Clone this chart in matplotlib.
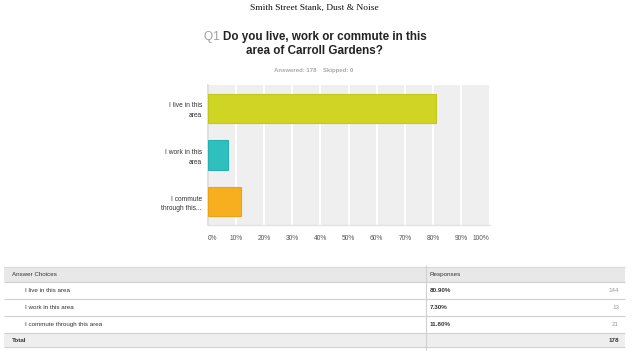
import matplotlib
matplotlib.use("Agg")
import matplotlib.pyplot as plt
from matplotlib.patches import Rectangle

# ---- data ----
suptitle = "Smith Street Stank, Dust & Noise"
question_no = "Q1"
question_lines = ["Do you live, work or commute in this", "area of Carroll Gardens?"]
answered = 178
skipped = 0
categories = ["I live in this\narea", "I work in this\narea", "I commute\nthrough this..."]
full_choices = ["I live in this area", "I work in this area", "I commute through this area"]
percents = [80.90, 7.30, 11.80]
counts = [144, 13, 21]
bar_colors = ["#D0D523", "#2FBFBF", "#F7AE1F"]
edge_colors = ["#C2C71C", "#27B0B0", "#EDA215"]
xticks = [0, 10, 20, 30, 40, 50, 60, 70, 80, 90, 100]

plt.rcParams['font.family'] = ['Liberation Sans', 'DejaVu Sans']

W, H = 640, 358
fig = plt.figure(figsize=(W / 100, H / 100), dpi=100)
fig.patch.set_facecolor("white")

# ---- bar chart ----
L, R, T, B = 207.5, 489.5, 85, 225
ax = fig.add_axes([L / W, 1 - B / H, (R - L) / W, (B - T) / H])
ax.set_facecolor("#EFEFEF")
ypos = list(range(len(categories)))
ax.barh(ypos, percents, height=0.63, color=bar_colors, edgecolor=edge_colors,
        linewidth=0.8, zorder=3)
ax.set_xlim(0, 100)
ax.set_ylim(len(categories) - 0.5, -0.5)
ax.set_xticks(xticks)
ax.set_xticklabels([f"{t}%" for t in xticks], fontsize=4.8, color="#555555")
for i, lab in enumerate(ax.get_xticklabels()):
    if i == 0:
        lab.set_horizontalalignment("left")
    elif i == len(xticks) - 1:
        lab.set_horizontalalignment("right")
ax.set_yticks(ypos)
ax.set_yticklabels(categories, fontsize=4.8, color="#333333", linespacing=1.5)
ax.tick_params(length=0, pad=4)
ax.tick_params(axis='x', pad=7)
ax.grid(axis='x', color="white", linewidth=1.5, zorder=1)
ax.set_axisbelow(True)
for s in ["top", "right"]:
    ax.spines[s].set_visible(False)
ax.spines["left"].set_color("#DADADA")
ax.spines["left"].set_linewidth(1.2)
ax.spines["bottom"].set_color("#E4E4E4")
ax.spines["bottom"].set_linewidth(1.0)

# ---- titles ----
fig.text(314.5 / W, 1 - 8 / H, suptitle, ha="center", va="center",
         family=["Liberation Serif", "DejaVu Serif"], fontsize=6.8, color="#111111")
q = fig.text(204 / W, 1 - 37 / H, question_no + " ", ha="left", va="center",
             fontsize=8.6, color="#A0A0A0")
fig.canvas.draw()
ann = ax.annotate(question_lines[0], xy=(1, 0.5), xycoords=q, ha="left", va="center",
                  fontsize=8.4, fontweight="bold", color="#222222", annotation_clip=False)
fig.text(314 / W, 1 - 51 / H, question_lines[1], ha="center", va="center",
         fontsize=8.4, fontweight="bold", color="#222222")
fig.text(314 / W, 1 - 70.5 / H, f"Answered: {answered}    Skipped: {skipped}",
         ha="center", va="center", fontsize=4.3, color="#A8A8A8", fontweight="bold")

# ---- table ----
tax = fig.add_axes([0, 0, 1, 1], zorder=-1)
tax.set_xlim(0, W)
tax.set_ylim(H, 0)
tax.axis("off")
tx0, tx1, divx = 4, 625, 426
header_top, header_bot = 267, 282
row_edges = [282, 299, 316, 333]
total_bot = 347
tax.add_patch(Rectangle((tx0, header_top), tx1 - tx0, header_bot - header_top,
                        facecolor="#E8E8E8", edgecolor="none"))
tax.add_patch(Rectangle((tx0, row_edges[-1]), tx1 - tx0, total_bot - row_edges[-1],
                        facecolor="#EEEEEE", edgecolor="none"))
tax.hlines([header_top], tx0, tx1, color="#D8D8D8", lw=0.8)
tax.hlines(row_edges + [total_bot], tx0, tx1, color="#D0D0D0", lw=0.8)
tax.vlines([divx], header_top - 2, total_bot + 3, color="#D0D0D0", lw=0.8)

fs = 4.5
tax.text(12, (header_top + header_bot) / 2, "Answer Choices", fontsize=fs,
         color="#333333", va="center", ha="left")
tax.text(divx + 4, (header_top + header_bot) / 2, "Responses", fontsize=fs,
         color="#333333", va="center", ha="left")
for i, (ch, p, c) in enumerate(zip(full_choices, percents, counts)):
    yc = (row_edges[i] + row_edges[i + 1]) / 2
    tax.text(25, yc, ch, fontsize=fs, color="#333333", va="center", ha="left")
    tax.text(divx + 4, yc, f"{p:.2f}%", fontsize=fs, color="#333333",
             va="center", ha="left", fontweight="bold")
    tax.text(619, yc, str(c), fontsize=fs, color="#9A9A9A", va="center", ha="right")
yc = (row_edges[-1] + total_bot) / 2
tax.text(12, yc, "Total", fontsize=fs, color="#333333", va="center", ha="left",
         fontweight="bold")
tax.text(619, yc, str(sum(counts)), fontsize=fs, color="#333333", va="center",
         ha="right", fontweight="bold")

fig.savefig("out.png", dpi=100, facecolor="white")
